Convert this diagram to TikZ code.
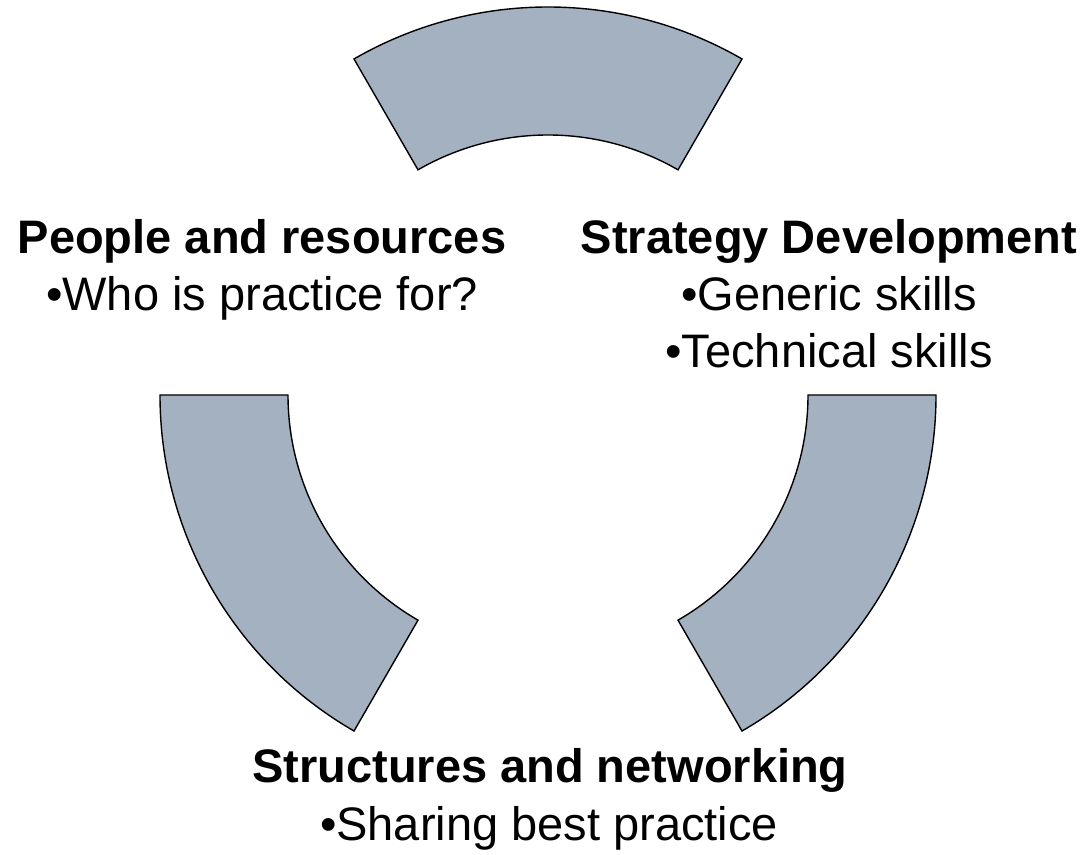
\documentclass[tikz,border=0pt]{standalone}
\usepackage{fontspec}
\setmainfont{Liberation Sans}
\usetikzlibrary{calc}
\definecolor{segfill}{RGB}{163,177,192}
\tikzset{
  seg/.style={draw=black, line width=1.4pt, fill=segfill, line join=miter},
  headtxt/.style={anchor=base, inner sep=0pt, font=\fontsize{47}{56}\selectfont\bfseries},
  itemtxt/.style={anchor=base, inner sep=0pt, font=\fontsize{47}{56}\selectfont},
}
\begin{document}
\begin{tikzpicture}[x=1pt,y=1pt]
\useasboundingbox (0,0) rectangle (1092,854);
\coordinate (c) at (548,459);
\def\ro{388}
\def\ri{260}
% top segment
\draw[seg] ($(c)+(60:\ro)$) arc[start angle=60,end angle=120,radius=\ro]
  -- ($(c)+(120:\ri)$) arc[start angle=120,end angle=60,radius=\ri] -- cycle;
% left segment
\draw[seg] ($(c)+(180:\ro)$) arc[start angle=180,end angle=240,radius=\ro]
  -- ($(c)+(240:\ri)$) arc[start angle=240,end angle=180,radius=\ri] -- cycle;
% right segment
\draw[seg] ($(c)+(300:\ro)$) arc[start angle=300,end angle=360,radius=\ro]
  -- ($(c)+(360:\ri)$) arc[start angle=360,end angle=300,radius=\ri] -- cycle;
% texts
\node[headtxt] (peopleH) at (262,600) {People and resources};
\node[itemtxt] (peopleA) at (262,543) {•Who is practice for?};
\node[headtxt] (stratH) at (829,600) {Strategy Development};
\node[itemtxt] (stratA) at (829,543) {•Generic skills};
\node[itemtxt] (stratB) at (829,486) {•Technical skills};
\node[headtxt] (structH) at (550,71) {Structures and networking};
\node[itemtxt] (structA) at (549,14) {•Sharing best practice};
\end{tikzpicture}
\end{document}
